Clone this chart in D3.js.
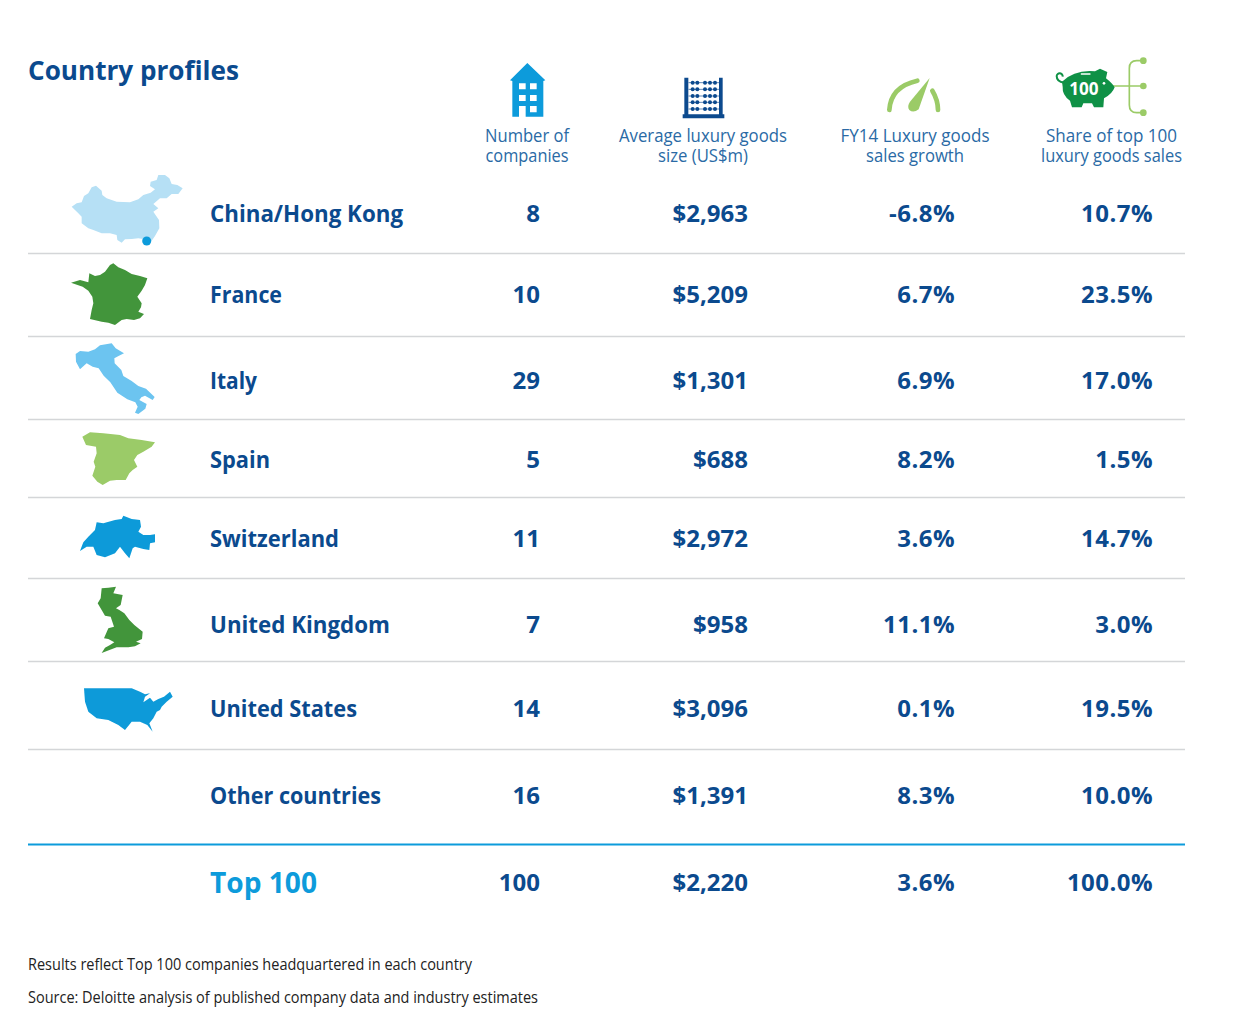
<!DOCTYPE html>
<html><head><meta charset="utf-8">
<script src="https://cdn.jsdelivr.net/npm/d3@7/dist/d3.min.js"></script>
<style>html,body{margin:0;background:#fff}svg{display:block}text{font-family:"Open Sans",sans-serif}</style>
</head><body><svg id="c" width="1240" height="1034"></svg>
<script>
const countries=["China/Hong Kong","France","Italy","Spain","Switzerland","United Kingdom","United States","Other countries","Top 100"];
const companies=["8","10","29","5","11","7","14","16","100"];
const avgSize=["$2,963","$5,209","$1,301","$688","$2,972","$958","$3,096","$1,391","$2,220"];
const growth=["-6.8%","6.7%","6.9%","8.2%","3.6%","11.1%","0.1%","8.3%","3.6%"];
const share=["10.7%","23.5%","17.0%","1.5%","14.7%","3.0%","19.5%","10.0%","100.0%"];
const headers=[["Number of","companies"],["Average luxury goods","size (US$m)"],["FY14 Luxury goods","sales growth"],["Share of top 100","luxury goods sales"]];
const notes=["Results reflect Top 100 companies headquartered in each country","Source: Deloitte analysis of published company data and industry estimates"];

const NAVY="#0b4a8e",CYAN="#0d9bdb",GREEN="#43953b",LIME="#9bcb67",PIG="#0f9146";
const svg=d3.select("#c");
svg.append("defs").append("filter").attr("id","soft").append("feGaussianBlur").attr("stdDeviation",.45);
const rowY=d3.scaleOrdinal().domain(countries).range([213,294,380,459,538,624,708,795,882]);
const ruleY=[253,336,419,497,578,661,749];
const colKeys=["name","n","size","growth","share"];
const colX=d3.scaleOrdinal().domain(colKeys).range([210,540,748,955,1153]);
const headX=[527,703,915,1111.5];
const headW=[[84,83],[168,90],[149,98],[131,141]];
const nameW=[193,72,47,60,129,180,147,171,107];

svg.append("text").attr("x",28).attr("y",80).attr("font-size",27).attr("font-weight",700).attr("fill",NAVY)
 .attr("textLength",211).attr("lengthAdjust","spacingAndGlyphs").text("Country profiles");

const hd=svg.append("g").selectAll("text").data(headers).join("text")
 .attr("text-anchor","middle").attr("font-size",18).attr("fill","#2a6aa5");
hd.selectAll("tspan").data((h,i)=>h.map((t,j)=>({t,j,i}))).join("tspan")
 .attr("x",d=>headX[d.i]).attr("y",d=>142+d.j*19.5)
 .attr("textLength",d=>headW[d.i][d.j]).attr("lengthAdjust","spacingAndGlyphs").text(d=>d.t);

svg.append("g").selectAll("line").data(ruleY).join("line").attr("x1",28).attr("x2",1185)
 .attr("y1",d=>d+.5).attr("y2",d=>d+.5).attr("stroke","#d4d6d8").attr("stroke-width",1.6);
svg.append("line").attr("x1",28).attr("x2",1185).attr("y1",844.5).attr("y2",844.5).attr("stroke",CYAN).attr("stroke-width",2);

const rows=svg.append("g").selectAll("g").data(countries).join("g");
rows.append("text").attr("x",colX("name")).attr("y",(d,i)=>rowY(d)+(i==8?11:8.5))
 .attr("font-size",(d,i)=>i==8?28:23.5).attr("font-weight",700)
 .attr("fill",(d,i)=>i==8?CYAN:NAVY)
 .attr("textLength",(d,i)=>nameW[i]).attr("lengthAdjust","spacingAndGlyphs").text(d=>d);
[["n",companies,0],["size",avgSize,0],["growth",growth,.45],["share",share,.45]].forEach(([k,arr,ls])=>{
 rows.append("text").attr("x",colX(k)).attr("y",d=>rowY(d)+8.5).attr("text-anchor","end")
  .attr("font-size",24).attr("font-weight",700).attr("fill",NAVY).attr("letter-spacing",ls).text((d,i)=>arr[i]);
});

// country silhouettes, traced in 3x crop space
const maps=[
 {o:[60,170],f:"#b6e0f5",p:"M35,110 50,100 65,97 72,78 85,70 95,52 108,47 125,62 127,75 140,85 170,95 210,97 235,88 250,75 272,68 285,58 270,48 272,35 290,30 295,15 315,15 328,25 335,42 352,45 368,55 355,72 335,72 320,85 300,85 280,102 295,115 280,125 297,150 298,175 285,198 273,215 250,207 235,205 215,207 195,208 185,218 172,210 170,195 150,190 125,190 100,180 85,175 65,160 65,140 55,130Z"},
 {o:[60,170],f:GREEN,p:"M33,338 60,330 85,337 88,310 105,318 120,315 135,305 150,285 160,280 175,292 195,300 215,312 240,318 262,325 255,345 245,362 232,380 245,400 243,412 235,425 252,432 240,445 222,450 200,447 185,450 165,465 145,458 125,455 90,447 95,420 100,400 97,380 85,362 68,350Z"},
 {o:[70,340],f:"#6cc4f0",p:"M17,42 30,33 55,35 75,28 90,16 125,10 137,25 162,40 147,47 133,55 134,70 154,90 160,108 185,123 205,138 228,146 254,171 248,180 225,167 214,172 208,180 230,192 226,206 205,222 195,218 203,200 196,187 172,178 142,158 121,127 101,107 86,85 68,80 50,70 30,88 18,65Z"},
 {o:[60,425],f:LIME,p:"M67,35 90,22 130,25 180,30 205,40 245,45 285,52 275,65 250,80 232,90 222,105 232,125 218,135 208,145 197,165 170,165 150,167 128,180 112,170 97,152 106,125 101,110 110,85 108,65 78,60Z"},
 {o:[60,425],f:"#0a9ad9",p:"M60,378 70,352 85,335 105,315 110,292 130,295 165,285 185,282 190,272 215,282 240,285 243,305 235,320 250,330 270,330 285,328 285,352 270,355 268,375 250,372 225,365 218,370 208,400 195,385 180,365 165,385 135,397 110,390 100,365 80,365Z"},
 {o:[60,425],f:GREEN,p:"M125,490 145,488 168,485 160,505 188,510 182,540 168,550 178,555 193,565 208,585 223,600 248,620 246,642 228,650 242,655 225,664 205,667 170,667 125,684 135,668 150,660 163,652 145,642 132,640 145,610 162,605 152,575 135,572 128,560 113,535 122,520Z"},
 {o:[60,425],f:"#0a9ad9",p:"M72,790 215,790 240,800 255,808 270,805 255,815 250,832 270,818 280,830 295,822 312,815 330,800 338,815 320,830 305,845 300,855 290,860 280,880 268,895 278,920 262,900 240,890 215,890 195,915 175,900 145,885 110,880 85,860 75,830Z"}
];
svg.append("g").attr("filter","url(#soft)").selectAll("path").data(maps).join("path")
 .attr("transform",d=>`translate(${d.o}) scale(${1/3})`).attr("d",d=>d.p).attr("fill",d=>d.f);
svg.append("circle").attr("cx",146.7).attr("cy",241).attr("r",4.5).attr("fill",CYAN);

// header icons, 3x crop space
const ic1=svg.append("g").attr("transform",`translate(490,55) scale(${1/3})`);
ic1.append("path").attr("fill",CYAN).attr("fill-rule","evenodd").attr("d","M60,76 112,24 166,76 160,78 160,185 67,185 67,78Z M87,85h20v18h-20Z M120,85h20v18h-20Z M87,120h20v18h-20Z M120,120h20v18h-20Z M87,153h20v32h-20Z M120,153h20v19h-20Z");
ic1.append("path").attr("fill","#0c4a8e").attr("d","M583,68h12v110h92V68h11v110h5v12H578v-12h5Z");
ic1.append("g").selectAll("g").data([83,103,123,142,162]).join("g").each(function(y){
 const g=d3.select(this);
 g.append("line").attr("x1",595).attr("x2",687).attr("y1",y).attr("y2",y).attr("stroke","#5f86b5").attr("stroke-width",3);
 g.selectAll("circle").data([608,622,645,660,675]).join("circle").attr("cx",d=>d).attr("cy",y).attr("r",6).attr("fill","#0c4a8e");
});
const ic2=svg.append("g").attr("transform",`translate(880,50) scale(${1/3})`);
ic2.append("g").attr("fill","none").attr("stroke",LIME).attr("stroke-width",14).attr("stroke-linecap","round")
 .selectAll("path").data(["M28,180 Q32,110 112,92","M174,180 Q174,150 157,122"]).join("path").attr("d",d=>d);
ic2.append("path").attr("fill",LIME).attr("d","M149,84 L116,178 Q100,190 88,180 Q80,170 90,155Z");
ic2.append("path").attr("fill","none").attr("stroke",LIME).attr("stroke-width",5).attr("d","M790,32 H770 Q748,32 748,55 V165 Q748,188 770,188 H790 M695,108 H790");
ic2.append("g").selectAll("circle").data([[790,32],[790,108],[790,188]]).join("circle").attr("cx",d=>d[0]).attr("cy",d=>d[1]).attr("r",10).attr("fill",LIME);
ic2.append("path").attr("fill",PIG).attr("d","M546,95 Q585,58 645,64 L660,56 682,66 678,85 Q697,100 704,112 Q697,132 672,145 L670,172 642,172 636,160 610,160 605,172 576,172 570,152 Q546,135 548,110Z");
ic2.append("path").attr("fill","none").attr("stroke",PIG).attr("stroke-width",6).attr("d","M552,98 Q530,95 530,78 A9,9 0 1 1 548,80");
ic2.append("text").attr("x",612).attr("y",134).attr("text-anchor","middle").attr("fill","#fff").attr("font-size",54).attr("font-weight",700)
 .attr("textLength",88).attr("lengthAdjust","spacingAndGlyphs").text("100");
ic2.append("circle").attr("cx",672).attr("cy",100).attr("r",4).attr("fill","#fff");
ic2.append("rect").attr("x",602).attr("y",70).attr("width",30).attr("height",4).attr("rx",2).attr("fill","#fff");

svg.append("g").selectAll("text").data(notes).join("text").attr("x",28).attr("y",(d,i)=>970+i*33)
 .attr("font-size",16).attr("fill","#222")
 .attr("textLength",(d,i)=>[444,510][i]).attr("lengthAdjust","spacingAndGlyphs").text(d=>d);
</script></body></html>
